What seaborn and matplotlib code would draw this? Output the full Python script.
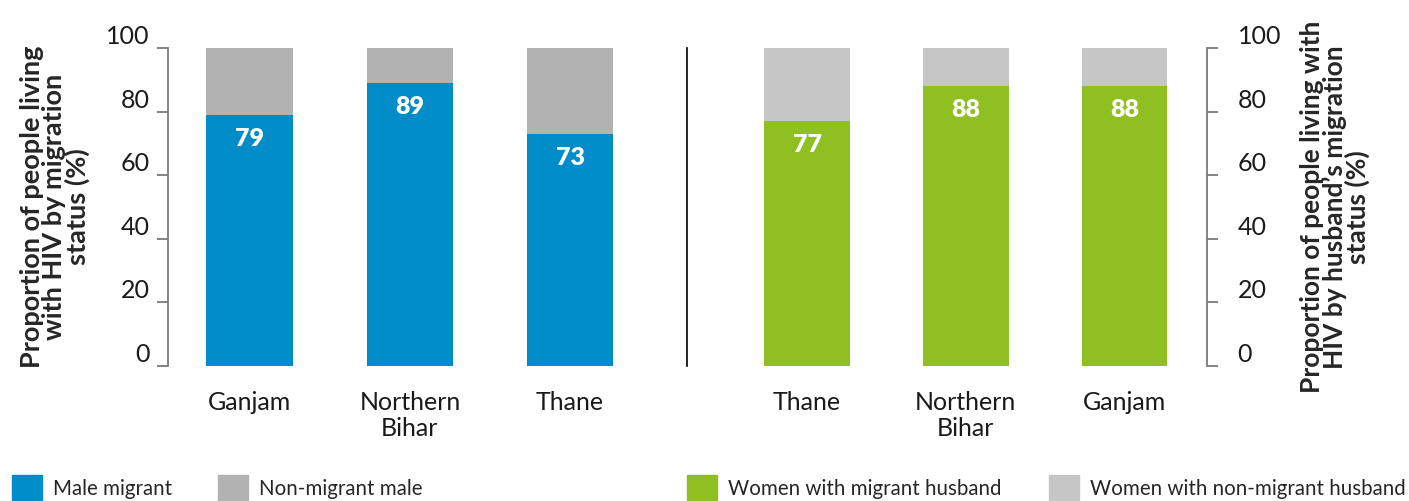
import matplotlib
matplotlib.use("Agg")
import matplotlib.pyplot as plt
from matplotlib.patches import Patch
import seaborn as sns
import pandas as pd

# Men: own migration status
men_districts = ["Ganjam", "Northern\nBihar", "Thane"]
male_migrant = [79, 89, 73]
male_non_migrant = [21, 11, 27]

# Women: husband's migration status
women_districts = ["Thane", "Northern\nBihar", "Ganjam"]
women_migrant_husband = [77, 88, 88]
women_non_migrant_husband = [23, 12, 12]

y_ticks = [0, 20, 40, 60, 80, 100]

BLUE = "#008CC9"
GREY = "#B2B2B2"
GREEN = "#8FBF21"
LIGHT_GREY = "#C6C6C6"

sns.set_theme(style="white")
plt.rcParams["font.family"] = ["Lato", "DejaVu Sans"]

fig = plt.figure(figsize=(14.09, 5.01), dpi=100)
W, H = 1409, 501
top_px, bot_px = 48, 366
ax_l = fig.add_axes([168 / W, 1 - bot_px / H, (687 - 168) / W, (bot_px - top_px) / H])
ax_r = fig.add_axes([687 / W, 1 - bot_px / H, (1207 - 687) / W, (bot_px - top_px) / H])

men = pd.DataFrame({"district": men_districts,
                    "migrant": male_migrant,
                    "total": [a + b for a, b in zip(male_migrant, male_non_migrant)]})
women = pd.DataFrame({"district": women_districts,
                      "migrant": women_migrant_husband,
                      "total": [a + b for a, b in zip(women_migrant_husband, women_non_migrant_husband)]})

bar_w = 0.54
for ax, df, c_main, c_rest in [(ax_l, men, BLUE, GREY), (ax_r, women, GREEN, LIGHT_GREY)]:
    sns.barplot(data=df, x="district", y="total", color=c_rest, width=bar_w,
                saturation=1, ax=ax, linewidth=0)
    sns.barplot(data=df, x="district", y="migrant", color=c_main, width=bar_w,
                saturation=1, ax=ax, linewidth=0)
    for i, v in enumerate(df["migrant"]):
        ax.text(i, v - 4, f"{v}", ha="center", va="top", color="white",
                fontsize=18, fontweight="heavy")
    ax.set_ylim(0, 100)
    ax.set_xlabel("")
    ax.set_ylabel("")
    ax.tick_params(axis="x", length=0, labelsize=18, pad=18, colors="#1a1a1a")
    for lbl in ax.get_xticklabels():
        lbl.set_verticalalignment("top")
        lbl.set_linespacing(1.15)

ax_l.set_xlim(-0.51, 2.73)
ax_r.set_xlim(-0.757, 2.52)

# left axis
for s in ["top", "right", "bottom"]:
    ax_l.spines[s].set_visible(False)
ax_l.spines["left"].set_color("#7a7a7a")
ax_l.spines["left"].set_linewidth(1.3)
ax_l.set_yticks(y_ticks)
ax_l.tick_params(axis="y", left=True, length=8, width=1.3, color="#7a7a7a",
                 labelsize=18, pad=5, labelcolor="#1a1a1a")
ax_l.set_ylabel("Proportion of people living\nwith HIV by migration\nstatus (%)",
                fontsize=19.5, fontweight="bold", linespacing=0.92, labelpad=12)

# right axis, the left spine works as the divider line
for s in ["top", "bottom"]:
    ax_r.spines[s].set_visible(False)
ax_r.spines["left"].set_color("black")
ax_r.spines["left"].set_linewidth(1.2)
ax_r.spines["right"].set_color("#7a7a7a")
ax_r.spines["right"].set_linewidth(1.3)
ax_r.yaxis.set_label_position("right")
ax_r.yaxis.tick_right()
ax_r.set_yticks(y_ticks)
ax_r.tick_params(axis="y", right=True, left=False, length=8, width=1.3, color="#7a7a7a",
                 labelsize=18, pad=14, labelcolor="#1a1a1a")
ax_r.set_ylabel("Proportion of people living with\nHIV by husband\u2019s migration\nstatus (%)",
                fontsize=19, fontweight="bold", linespacing=0.9, labelpad=14,
                rotation=90)

for ax in (ax_l, ax_r):
    for lbl in ax.get_yticklabels():
        lbl.set_verticalalignment("bottom")

leg_kw = dict(frameon=False, ncol=2, fontsize=14.8, handlelength=1.46, handleheight=1.46,
              handletextpad=0.55, borderaxespad=0, borderpad=0)
leg1 = fig.legend(handles=[Patch(color=BLUE, label="Male migrant"),
                           Patch(color=GREY, label="Non-migrant male")],
                  loc="lower left", bbox_to_anchor=(12 / W, 1 / H),
                  columnspacing=2.2, **leg_kw)
leg2 = fig.legend(handles=[Patch(color=GREEN, label="Women with migrant husband"),
                           Patch(color=LIGHT_GREY, label="Women with non-migrant husband")],
                  loc="lower left", bbox_to_anchor=(687 / W, 1 / H),
                  columnspacing=2.3, **leg_kw)

fig.savefig("out.png", dpi=100)
